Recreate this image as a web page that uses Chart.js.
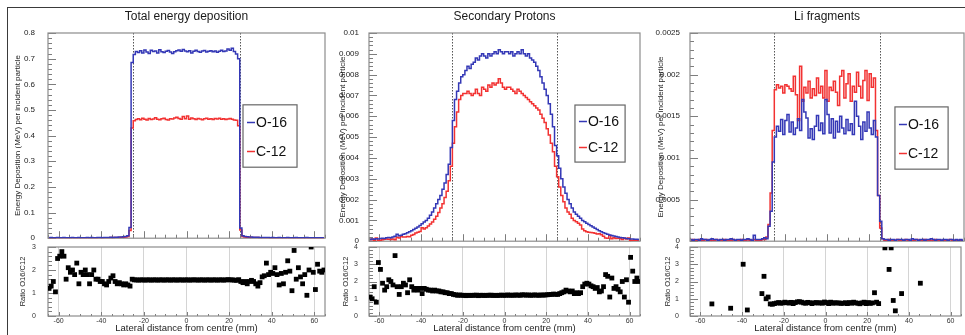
<!DOCTYPE html>
<html>
<head>
<meta charset="utf-8">
<title>Energy deposition O-16 vs C-12</title>
<script src="https://cdn.jsdelivr.net/npm/chart.js@4.4.1/dist/chart.umd.min.js"></script>
<style>
    html, body { margin: 0; padding: 0; background: #fff; overflow: hidden; }
    #fig { position: relative; width: 965px; height: 335px; }
    #marco { position: absolute; left: 7px; top: 7px; width: 980px; height: 350px; border-top: 1px solid #3a3a3a; border-left: 1px solid #3a3a3a; }
    canvas { position: absolute; }
</style>
</head>
<body>
<div id="fig">
    <div id="marco"></div>
    <canvas id="top1" width="330" height="248" style="left:0px;top:0px"></canvas>
    <canvas id="top2" width="320" height="248" style="left:326px;top:0px"></canvas>
    <canvas id="top3" width="319" height="248" style="left:646px;top:0px"></canvas>
    <canvas id="rat1" width="330" height="98" style="left:0px;top:237px"></canvas>
    <canvas id="rat2" width="320" height="98" style="left:326px;top:237px"></canvas>
    <canvas id="rat3" width="319" height="98" style="left:646px;top:237px"></canvas>
</div>
<script>
// bins of 1 mm from -65 to 65 mm (130 bins), values given per bin centre
const binCentres = Array.from({ length: 130 }, (_, i) => -64.5 + i);
const beamEdges = [-25, 25];

// ---- Total energy deposition (MeV per incident particle)
const totalO16 = [
    0.002,0.003,0.002,0.002,0.003,0.002,0.002,0.003,0.002,0.002,
    0.002,0.003,0.002,0.002,0.003,0.002,0.002,0.002,0.003,0.002,
    0.003,0.002,0.002,0.003,0.003,0.002,0.003,0.003,0.003,0.004,
    0.003,0.004,0.004,0.005,0.005,0.006,0.007,0.010,0.042,0.685,
    0.716,0.728,0.724,0.731,0.722,0.734,0.726,0.720,0.733,0.728,
    0.730,0.722,0.735,0.727,0.724,0.729,0.732,0.726,0.720,0.727,
    0.731,0.734,0.729,0.736,0.730,0.727,0.731,0.722,0.729,0.733,
    0.728,0.725,0.730,0.732,0.726,0.729,0.731,0.727,0.730,0.725,
    0.729,0.733,0.728,0.730,0.738,0.733,0.741,0.728,0.718,0.700,
    0.040,0.010,0.007,0.006,0.005,0.005,0.004,0.004,0.004,0.003,
    0.003,0.003,0.003,0.003,0.002,0.003,0.002,0.002,0.003,0.002,
    0.002,0.002,0.003,0.002,0.002,0.002,0.003,0.002,0.002,0.002,
    0.002,0.003,0.002,0.002,0.002,0.002,0.002,0.002,0.002,0.002
];
const totalC12 = [
    0.001,0.002,0.001,0.001,0.002,0.001,0.001,0.002,0.001,0.001,
    0.001,0.002,0.001,0.001,0.002,0.001,0.001,0.001,0.002,0.001,
    0.002,0.001,0.001,0.002,0.002,0.001,0.002,0.002,0.002,0.003,
    0.002,0.003,0.003,0.003,0.004,0.004,0.005,0.007,0.030,0.430,
    0.458,0.463,0.466,0.462,0.468,0.464,0.461,0.467,0.463,0.465,
    0.470,0.464,0.462,0.466,0.468,0.463,0.461,0.466,0.465,0.469,
    0.472,0.467,0.464,0.474,0.466,0.476,0.464,0.469,0.466,0.463,
    0.467,0.465,0.462,0.466,0.468,0.464,0.466,0.463,0.467,0.465,
    0.468,0.464,0.466,0.463,0.465,0.467,0.464,0.461,0.460,0.438,
    0.032,0.007,0.005,0.004,0.004,0.003,0.003,0.003,0.003,0.002,
    0.002,0.002,0.002,0.002,0.001,0.002,0.001,0.001,0.002,0.001,
    0.001,0.001,0.002,0.001,0.001,0.001,0.001,0.001,0.001,0.001,
    0.001,0.002,0.001,0.001,0.001,0.001,0.001,0.001,0.001,0.001
];
const ratioTotal = [
    1.2,1.3,1.5,1.05,2.5,2.6,2.8,2.6,1.6,2.1,
    1.9,2.0,1.8,2.3,1.4,1.9,1.8,2.0,1.8,1.4,
    1.8,2.0,1.6,1.6,1.5,1.5,1.4,1.35,1.5,1.65,
    1.75,1.5,1.4,1.45,1.4,1.35,1.4,1.35,1.3,1.6,
    1.57,1.57,1.56,1.57,1.57,1.56,1.57,1.57,1.56,1.57,
    1.57,1.56,1.57,1.57,1.56,1.57,1.57,1.56,1.57,1.57,
    1.56,1.57,1.57,1.56,1.57,1.57,1.56,1.57,1.57,1.57,
    1.56,1.57,1.57,1.56,1.57,1.57,1.56,1.57,1.57,1.56,
    1.57,1.57,1.56,1.57,1.58,1.57,1.57,1.56,1.55,1.58,
    1.5,1.45,1.5,1.4,1.5,1.55,1.5,1.4,1.3,1.45,
    1.7,1.75,2.3,1.8,1.9,1.85,2.1,1.8,1.35,1.85,
    1.4,1.9,2.4,1.95,1.1,2.85,1.6,2.1,1.7,1.4,
    1.8,0.9,2.0,3.0,1.9,1.15,2.25,1.95,1.9,2.0
];

// ---- Secondary protons
const protonsO16 = [
    0.00008,0.0001,0.00009,0.00012,0.0001,0.00013,0.00014,0.00013,0.00016,0.00018,
    0.00017,0.0002,0.00024,0.00033,0.00026,0.00029,0.00033,0.00036,0.00041,0.00045,
    0.0005,0.00056,0.00062,0.00068,0.00076,0.00084,0.00092,0.001,0.0011,0.00125,
    0.0014,0.0016,0.0018,0.002,0.0022,0.0025,0.0028,0.0032,0.0037,0.0045,
    0.0058,0.0068,0.0072,0.0076,0.0079,0.008,0.0082,0.0084,0.0083,0.0085,
    0.0086,0.0088,0.0087,0.0089,0.009,0.0089,0.0088,0.009,0.0089,0.009,
    0.0091,0.009,0.0092,0.0091,0.009,0.0091,0.0091,0.009,0.0091,0.0089,
    0.009,0.0091,0.009,0.0092,0.009,0.0089,0.009,0.0088,0.0087,0.0086,
    0.0084,0.0082,0.0079,0.0076,0.0073,0.007,0.0066,0.0061,0.0055,0.0046,
    0.0041,0.0035,0.003,0.0026,0.0023,0.002,0.0018,0.0016,0.0014,0.0013,
    0.0012,0.0011,0.001,0.00093,0.00086,0.0008,0.00074,0.00068,0.00062,0.00056,
    0.0005,0.00045,0.00041,0.00037,0.00033,0.0003,0.00027,0.00025,0.00022,0.0002,
    0.00018,0.00016,0.00015,0.00013,0.00012,0.00011,0.0001,0.00009,0.00009,0.00008
];
const protonsC12 = [
    0.00007,0.0001,0.00005,0.00015,0.00003,0.00005,0.00007,0.00009,0.0001,0.00009,
    0.00008,0.0001,0.00007,0.00019,0.00015,0.00023,0.0002,0.0002,0.00023,0.00021,
    0.00029,0.00032,0.00039,0.00043,0.00047,0.00065,0.00058,0.00065,0.00073,0.00083,
    0.00092,0.00105,0.0012,0.00138,0.0016,0.0018,0.0021,0.0024,0.0029,0.0036,
    0.0047,0.0055,0.0062,0.0068,0.007,0.0071,0.0071,0.0072,0.0071,0.007,
    0.0071,0.0073,0.0071,0.007,0.0074,0.0073,0.0072,0.0075,0.0074,0.0076,
    0.0075,0.0076,0.0078,0.0076,0.0074,0.0073,0.0074,0.0074,0.0073,0.0072,
    0.0071,0.0073,0.0072,0.0071,0.007,0.0069,0.0068,0.0067,0.0066,0.0065,
    0.0064,0.0063,0.0061,0.0059,0.0057,0.0054,0.0051,0.0047,0.0043,0.0036,
    0.0031,0.0026,0.0022,0.0019,0.0016,0.0014,0.0013,0.0011,0.001,0.00093,
    0.00086,0.00078,0.00058,0.0005,0.00045,0.00043,0.00042,0.0004,0.00038,0.00034,
    0.00036,0.00031,0.00024,0.00015,0.00014,0.00027,0.00012,0.00016,0.00013,0.00014,
    0.00013,0.00008,0.00014,0.00011,0.00015,0.00003,0.00004,0.00005,0.00004,0.00004
];
const ratioProtons = [
    1.1,1.0,1.7,0.8,3.1,2.7,1.9,1.5,1.7,2.1,
    2.0,1.8,3.5,1.7,1.25,1.7,1.9,1.8,1.35,2.1,
    1.7,1.5,1.6,1.5,1.6,1.3,1.6,1.55,1.5,1.5,
    1.45,1.5,1.45,1.45,1.4,1.4,1.35,1.35,1.3,1.3,
    1.25,1.23,1.2,1.22,1.2,1.2,1.18,1.2,1.19,1.2,
    1.2,1.21,1.18,1.2,1.2,1.19,1.2,1.2,1.21,1.19,
    1.2,1.19,1.2,1.21,1.2,1.2,1.22,1.2,1.21,1.2,
    1.22,1.21,1.2,1.23,1.22,1.21,1.22,1.2,1.21,1.22,
    1.21,1.2,1.22,1.21,1.22,1.23,1.24,1.25,1.27,1.26,
    1.25,1.3,1.35,1.4,1.5,1.45,1.4,1.45,1.3,1.35,
    1.3,1.35,1.7,1.85,1.9,1.85,1.75,1.7,1.6,1.65,
    1.4,1.45,1.7,2.4,2.3,1.1,2.2,1.6,1.7,1.55,
    1.4,2.0,1.1,2.1,0.8,3.4,2.6,2.0,2.2,2.0
];

// ---- Li fragments
const liO16 = [
    0.00002,0.00001,0.00002,0.00002,0.00001,0.00003,0.00002,0.00002,0.00001,0.00002,
    0.00003,0.00002,0.00002,0.00001,0.00002,0.00002,0.00001,0.00002,0.00002,0.00003,
    0.00002,0.00001,0.00002,0.00002,0.00001,0.00002,0.00002,0.00003,0.00002,0.00001,
    0.00007,0.00002,0.00002,0.00002,0.00003,0.00004,0.00003,0.00018,0.00036,0.00095,
    0.00125,0.00138,0.00132,0.00146,0.00128,0.00145,0.00152,0.00131,0.00143,0.00128,
    0.00136,0.00147,0.00133,0.0017,0.00155,0.00148,0.00124,0.00135,0.00122,0.00138,
    0.00151,0.00133,0.00142,0.00129,0.0017,0.00152,0.0013,0.00147,0.00124,0.00144,
    0.00131,0.0015,0.00136,0.00129,0.00146,0.00133,0.00141,0.00128,0.00168,0.0015,
    0.00138,0.00122,0.00143,0.00132,0.00155,0.00136,0.00128,0.00145,0.00125,0.00055,
    0.00024,0.00003,0.00002,0.00002,0.00001,0.00002,0.00002,0.00001,0.00002,0.00002,
    0.00002,0.00001,0.00002,0.00002,0.00001,0.00003,0.00002,0.00002,0.00001,0.00002,
    0.00002,0.00001,0.00002,0.00002,0.00003,0.00002,0.00001,0.00002,0.00002,0.00001,
    0.00002,0.00002,0.00001,0.00002,0.00002,0.00001,0.00002,0.00001,0.00002,0.00001
];
const liC12 = [
    0.00001,0.00002,0.00001,0.00001,0.00002,0.00001,0.00001,0.00002,0.00001,0.00001,
    0.00001,0.00001,0.00002,0.00001,0.00001,0.00001,0.00002,0.00001,0.00001,0.00001,
    0.00002,0.00001,0.00001,0.00001,0.00002,0.00001,0.00001,0.00002,0.00001,0.00001,
    0.00002,0.00001,0.00001,0.00001,0.00002,0.00002,0.00005,0.0002,0.00058,0.00133,
    0.00182,0.00188,0.00184,0.00186,0.00178,0.00188,0.00186,0.00183,0.0018,0.00198,
    0.00176,0.00145,0.0021,0.00168,0.00185,0.00178,0.00192,0.00172,0.00183,0.00175,
    0.00196,0.00178,0.00186,0.00172,0.00205,0.00168,0.00185,0.00181,0.00192,0.00179,
    0.00163,0.00198,0.00205,0.00172,0.00189,0.00201,0.00168,0.00186,0.00179,0.00203,
    0.00186,0.00172,0.00193,0.00205,0.00169,0.00201,0.00185,0.00196,0.00133,0.00055,
    0.00016,0.00003,0.00001,0.00001,0.00002,0.00001,0.00001,0.00001,0.00002,0.00001,
    0.00001,0.00001,0.00002,0.00001,0.00001,0.00001,0.00001,0.00002,0.00001,0.00001,
    0.00001,0.00002,0.00001,0.00001,0.00001,0.00001,0.00002,0.00001,0.00001,0.00001,
    0.00001,0.00001,0.00001,0.00002,0.00001,0.00001,0.00001,0.00001,0.00001,0.00001
];
const ratioLi = [
    null,null,null,null,null,null,null,null,null,null,
    0.7,null,null,null,null,null,null,null,null,0.45,
    null,null,null,null,null,3.0,null,0.35,null,null,
    null,null,null,null,1.3,2.3,1.0,1.1,0.7,0.68,
    0.72,0.75,0.78,0.74,0.76,0.8,0.77,0.75,0.79,0.72,
    0.78,0.82,0.83,0.8,0.76,0.74,0.79,0.77,0.72,0.76,
    0.78,0.75,0.77,0.74,0.81,0.78,0.72,0.8,0.74,0.77,
    0.75,0.76,0.73,0.74,0.77,0.72,0.78,0.74,0.8,0.76,
    0.74,0.71,0.76,0.8,0.72,0.78,0.73,0.76,1.35,0.8,
    0.72,null,null,3.95,null,2.7,3.95,0.9,0.3,null,
    null,1.3,null,null,null,null,null,null,null,null,
    1.9,null,null,null,null,null,null,null,null,null,
    null,null,null,null,null,null,null,null,null,null
];

const colorO16 = "rgb(52, 56, 182)";
const colorC12 = "rgb(242, 50, 50)";

Chart.defaults.font.family = '"Liberation Sans", Arial, Helvetica, sans-serif';
Chart.defaults.color = "#222";
Chart.defaults.animation = false;

// Marco estilo ROOT: ticks hacia dentro, caja gris, lineas punteadas del haz
const rootAxes = {
    id: "rootAxes",
    beforeDatasetsDraw(chart, args, o) {
        const { ctx, chartArea: a, scales: { x, y } } = chart;
        ctx.save();
        if (o.edges) {
            ctx.strokeStyle = "#555"; ctx.lineWidth = 1; ctx.setLineDash([1.5, 1.5]);
            ctx.beginPath();
            o.edges.forEach(e => {
                const px = Math.round(x.getPixelForValue(e)) + 0.5;
                ctx.moveTo(px, a.top); ctx.lineTo(px, a.bottom);
            });
            ctx.stroke();
            ctx.setLineDash([]);
        }
        ctx.strokeStyle = "#7d7d7d"; ctx.lineWidth = 1;
        ctx.beginPath();
        const ny = Math.round((y.max - y.min) / o.yMinor);
        for (let k = 0; k <= ny; k++) {
            const py = Math.round(y.getPixelForValue(y.min + k * o.yMinor)) + 0.5;
            const len = k % o.yDiv === 0 ? o.yLen : o.yLen / 2;
            ctx.moveTo(a.left, py); ctx.lineTo(a.left + len, py);
        }
        const k0 = Math.ceil(x.min / o.xMinor), k1 = Math.floor(x.max / o.xMinor);
        for (let k = k0; k <= k1; k++) {
            const px = Math.round(x.getPixelForValue(k * o.xMinor)) + 0.5;
            const len = k % o.xDiv === 0 ? o.xLen : o.xLen / 2;
            ctx.moveTo(px, a.bottom); ctx.lineTo(px, a.bottom - len);
        }
        ctx.stroke();
        ctx.strokeStyle = "#8c8c8c"; ctx.lineWidth = 1.2;
        ctx.strokeRect(a.left, a.top, a.right - a.left, a.bottom - a.top);
        ctx.restore();
    }
};

// Leyenda en caja, posicion relativa al area del grafico
const legendBox = {
    id: "legendBox",
    afterDraw(chart, args, o) {
        if (!o.box) return;
        const { ctx, chartArea: a } = chart;
        const w = a.right - a.left, h = a.bottom - a.top;
        const bx = a.left + o.box[0] * w, by = a.top + o.box[2] * h;
        const bw = (o.box[1] - o.box[0]) * w, bh = (o.box[3] - o.box[2]) * h;
        ctx.save();
        ctx.fillStyle = "#fff"; ctx.fillRect(bx, by, bw, bh);
        ctx.strokeStyle = "#666"; ctx.lineWidth = 1.2; ctx.strokeRect(bx, by, bw, bh);
        ctx.font = '14px "Liberation Sans", Arial, sans-serif';
        ctx.textBaseline = "middle";
        chart.data.datasets.forEach((ds, i) => {
            const yy = Math.round(by + bh * (i ? 0.74 : 0.28)) + 0.5;
            ctx.strokeStyle = ds.borderColor; ctx.lineWidth = 1.5;
            ctx.beginPath(); ctx.moveTo(bx + 4, yy); ctx.lineTo(bx + 12, yy); ctx.stroke();
            ctx.fillStyle = "#111";
            ctx.fillText(ds.label, bx + 13, yy + 1);
        });
        ctx.restore();
    }
};

const toPoints = vals => vals.map((v, i) => ({ x: binCentres[i], y: v }))
                             .filter(p => p.y !== null);
const fmt = v => String(+v.toFixed(6));

function histChart(id, titulo, o16, c12, yMax, yStep, yMinor, yWidth, yLabPad, yTitlePad, padRight, legend) {
    return new Chart(document.getElementById(id), {
        type: "line",
        data: {
            datasets: [
                { label: "O-16", data: toPoints(o16), borderColor: colorO16, borderWidth: 1.5, pointRadius: 0, stepped: "middle" },
                { label: "C-12", data: toPoints(c12), borderColor: colorC12, borderWidth: 1.5, pointRadius: 0, stepped: "middle" }
            ]
        },
        options: {
            responsive: false,
            events: [],
            layout: { padding: { left: 0, right: padRight, top: 0, bottom: 1 } },
            scales: {
                x: { type: "linear", min: -65, max: 65, display: false },
                y: {
                    min: 0, max: yMax,
                    ticks: { stepSize: yStep, font: { size: 8 }, color: "#222", padding: yLabPad, callback: fmt },
                    grid: { display: false }, border: { display: false },
                    title: { display: true, text: "Energy Deposition (MeV) per incident particle", font: { size: 8 }, color: "#222", padding: { top: yTitlePad, bottom: 0 } },
                    afterFit: s => { s.width = yWidth; }
                }
            },
            plugins: {
                legend: { display: false },
                tooltip: { enabled: false },
                title: { display: true, text: titulo, fullSize: false, color: "#1a1a1a", font: { size: 12, weight: "normal" }, padding: { top: 9, bottom: 9.6 } },
                rootAxes: { edges: beamEdges, yMinor: yMinor, yDiv: 5, yLen: 8, xMinor: 5, xDiv: 4, xLen: 7 },
                legendBox: { box: legend }
            }
        },
        plugins: [rootAxes, legendBox]
    });
}

function ratioChart(id, ratio, yMax, yWidth, yLabPad, yTitlePad, padRight) {
    return new Chart(document.getElementById(id), {
        type: "scatter",
        data: {
            datasets: [{ label: "O16/C12", data: toPoints(ratio), pointStyle: "rect", pointRadius: 3.4, backgroundColor: "#000", borderWidth: 0 }]
        },
        options: {
            responsive: false,
            events: [],
            layout: { padding: { left: 0, right: padRight, top: 10, bottom: 0 } },
            scales: {
                x: {
                    type: "linear", min: -65, max: 65,
                    ticks: { stepSize: 20, includeBounds: false, maxRotation: 0, font: { size: 7 }, color: "#333", padding: 1 },
                    grid: { color: "#d4d4d4", drawTicks: false }, border: { display: false },
                    title: { display: true, text: "Lateral distance from centre (mm)", font: { size: 9.5 }, color: "#222", padding: { top: 0, bottom: 1 } },
                    afterFit: s => { s.height = 19; }
                },
                y: {
                    min: 0, max: yMax,
                    ticks: { stepSize: 1, font: { size: 7 }, color: "#333", padding: yLabPad },
                    grid: { display: false }, border: { display: false },
                    title: { display: true, text: "Ratio O16/C12", font: { size: 7.5 }, color: "#222", padding: { top: yTitlePad, bottom: 0 } },
                    afterFit: s => { s.width = yWidth; }
                }
            },
            plugins: {
                legend: { display: false },
                tooltip: { enabled: false },
                rootAxes: { yMinor: 0.2, yDiv: 5, yLen: 8, xMinor: 5, xDiv: 4, xLen: 4 }
            }
        },
        plugins: [rootAxes]
    });
}

histChart("top1", "Total energy deposition", totalO16, totalC12, 0.8, 0.1, 0.02, 48, 5, 13, 5, [0.704, 0.899, 0.35, 0.654]);
histChart("top2", "Secondary Protons", protonsO16, protonsC12, 0.01, 0.001, 0.0002, 43, 2, 12, 6, [0.76, 0.945, 0.346, 0.62]);
histChart("top3", "Li fragments", liO16, liC12, 0.0025, 0.0005, 0.0001, 44, 2, 10, 1, [0.748, 0.942, 0.355, 0.654]);

ratioChart("rat1", ratioTotal, 3, 48, 4, 18, 5);
ratioChart("rat2", ratioProtons, 4, 43, 3, 15.5, 6);
ratioChart("rat3", ratioLi, 4, 44, 3, 17.5, 1);
</script>
</body>
</html>
